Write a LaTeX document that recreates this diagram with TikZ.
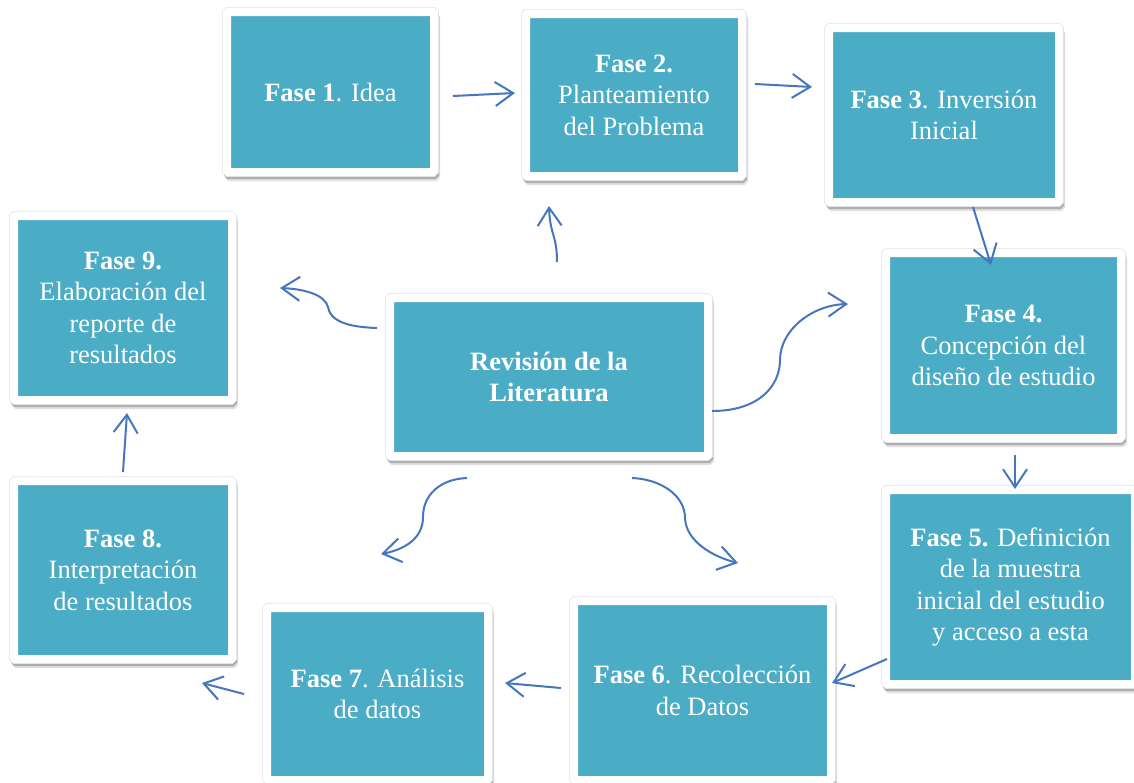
\documentclass[tikz,border=0pt]{standalone}
\usepackage{fontspec}
\setmainfont{Liberation Serif}
\usetikzlibrary{arrows.meta,calc}
\definecolor{boxteal}{RGB}{75,172,198}
\definecolor{arrowblue}{RGB}{70,118,190}
\tikzset{
  box/.style={rectangle, fill=boxteal, draw=white, line width=8pt, rounded corners=1pt,
    inner sep=0pt, outer sep=0pt, text=white, align=center,
    font=\fontsize{26.5}{31.5}\selectfont,
    preaction={draw=black, draw opacity=0.12, line width=8pt, transform canvas={xshift=2pt,yshift=-5pt}},
    preaction={draw=black, draw opacity=0.22, line width=8pt, transform canvas={xshift=1pt,yshift=-3pt}},
    preaction={draw=black!12, line width=9.5pt}},
  conn/.style={draw=arrowblue, line width=2pt, -{Straight Barb[length=18pt,width=24pt]}},
}
\begin{document}
\begin{tikzpicture}[x=1pt,y=-1pt]
\useasboundingbox[fill=white] (0,0) rectangle (1134,782);
\node[box, minimum width=207pt, minimum height=160pt] (b1) at (330.5,92) {\textbf{Fase 1}. Idea};
\node[box, minimum width=216pt, minimum height=162pt] (b2) at (634,95) {\textbf{Fase 2.}\\Planteamiento\\del Problema};
\node[box, minimum width=230pt, minimum height=174pt] (b3) at (944,115) {\textbf{Fase 3}. Inversión\\Inicial};
\node[box, minimum width=235pt, minimum height=185pt] (b4) at (1003.5,345.5) {\textbf{Fase 4.}\\Concepción del\\diseño de estudio};
\node[box, minimum width=249pt, minimum height=194pt] (b5) at (1010.5,587) {\textbf{Fase 5.} Definición\\de la muestra\\inicial del estudio\\y acceso a esta};
\node[box, minimum width=257pt, minimum height=179pt] (b6) at (702.5,690.5) {\textbf{Fase 6}. Recolección\\de Datos};
\node[box, minimum width=221pt, minimum height=172pt] (b7) at (377.5,694) {\textbf{Fase 7}. Análisis\\de datos};
\node[box, minimum width=218pt, minimum height=178pt] (b8) at (123,570) {\textbf{Fase 8.}\\Interpretación\\de resultados};
\node[box, minimum width=218pt, minimum height=184pt] (b9) at (123,308) {\textbf{Fase 9.}\\Elaboración del\\reporte de\\resultados};
\node[box, minimum width=318pt, minimum height=158pt] (c) at (549,377) {\textbf{Revisión de la}\\\textbf{Literatura}};

\draw[conn] ($(b1.east)+(19,4)$) -- ($(b2.west)+(-11,-2)$);
\draw[conn] ($(b2.east)+(13,-11)$) -- ($(b3.west)+(-17,-28)$);
\draw[conn] ($(b3.south)+(29,5)$) -- ($(b4.north)+(-12.5,12)$);
\draw[conn] ($(b4.south)+(11.5,17)$) -- ($(b5.north)+(4.5,-1)$);
\draw[conn] ($(b5.west)+(1,72)$) -- ($(b6.east)+(1,-7.5)$);
\draw[conn] ($(b6.west)+(-13,-2.5)$) -- ($(b7.east)+(17,-11)$);
\draw[conn] ($(b7.west)+(-23,0)$) -- ($(b8.south east)+(-30,24)$);
\draw[conn] ($(b8.north)+(0,-9)$) -- ($(b9.south)+(4,13)$);

\draw[conn] ($(c.north)+(8,-36)$) .. controls (557,235) and (550,235) .. ($(b2.south)+(-85,30)$);
\draw[conn] ($(c.west)+(-13,-49)$) .. controls (345,327) and (330,320) .. (328,307) .. controls (325,295) and (305,289) .. ($(b9.east)+(48,-20)$);
\draw[conn] ($(c.east)+(4,34)$) .. controls (760,411) and (780,385) .. (780,360) .. controls (780,330) and (812,305) .. ($(b4.west)+(-38,-41.5)$);
\draw[conn] ($(c.south)+(-82,22)$) .. controls (440,479) and (423,495) .. (423,517) .. controls (423,540) and (402,550) .. ($(b7.north)+(3.5,-54)$);
\draw[conn] ($(c.south)+(83,22)$) .. controls (660,479) and (685,495) .. (685,518) .. controls (686,542) and (714,557) .. ($(b6.north)+(35.5,-38)$);
\end{tikzpicture}
\end{document}
